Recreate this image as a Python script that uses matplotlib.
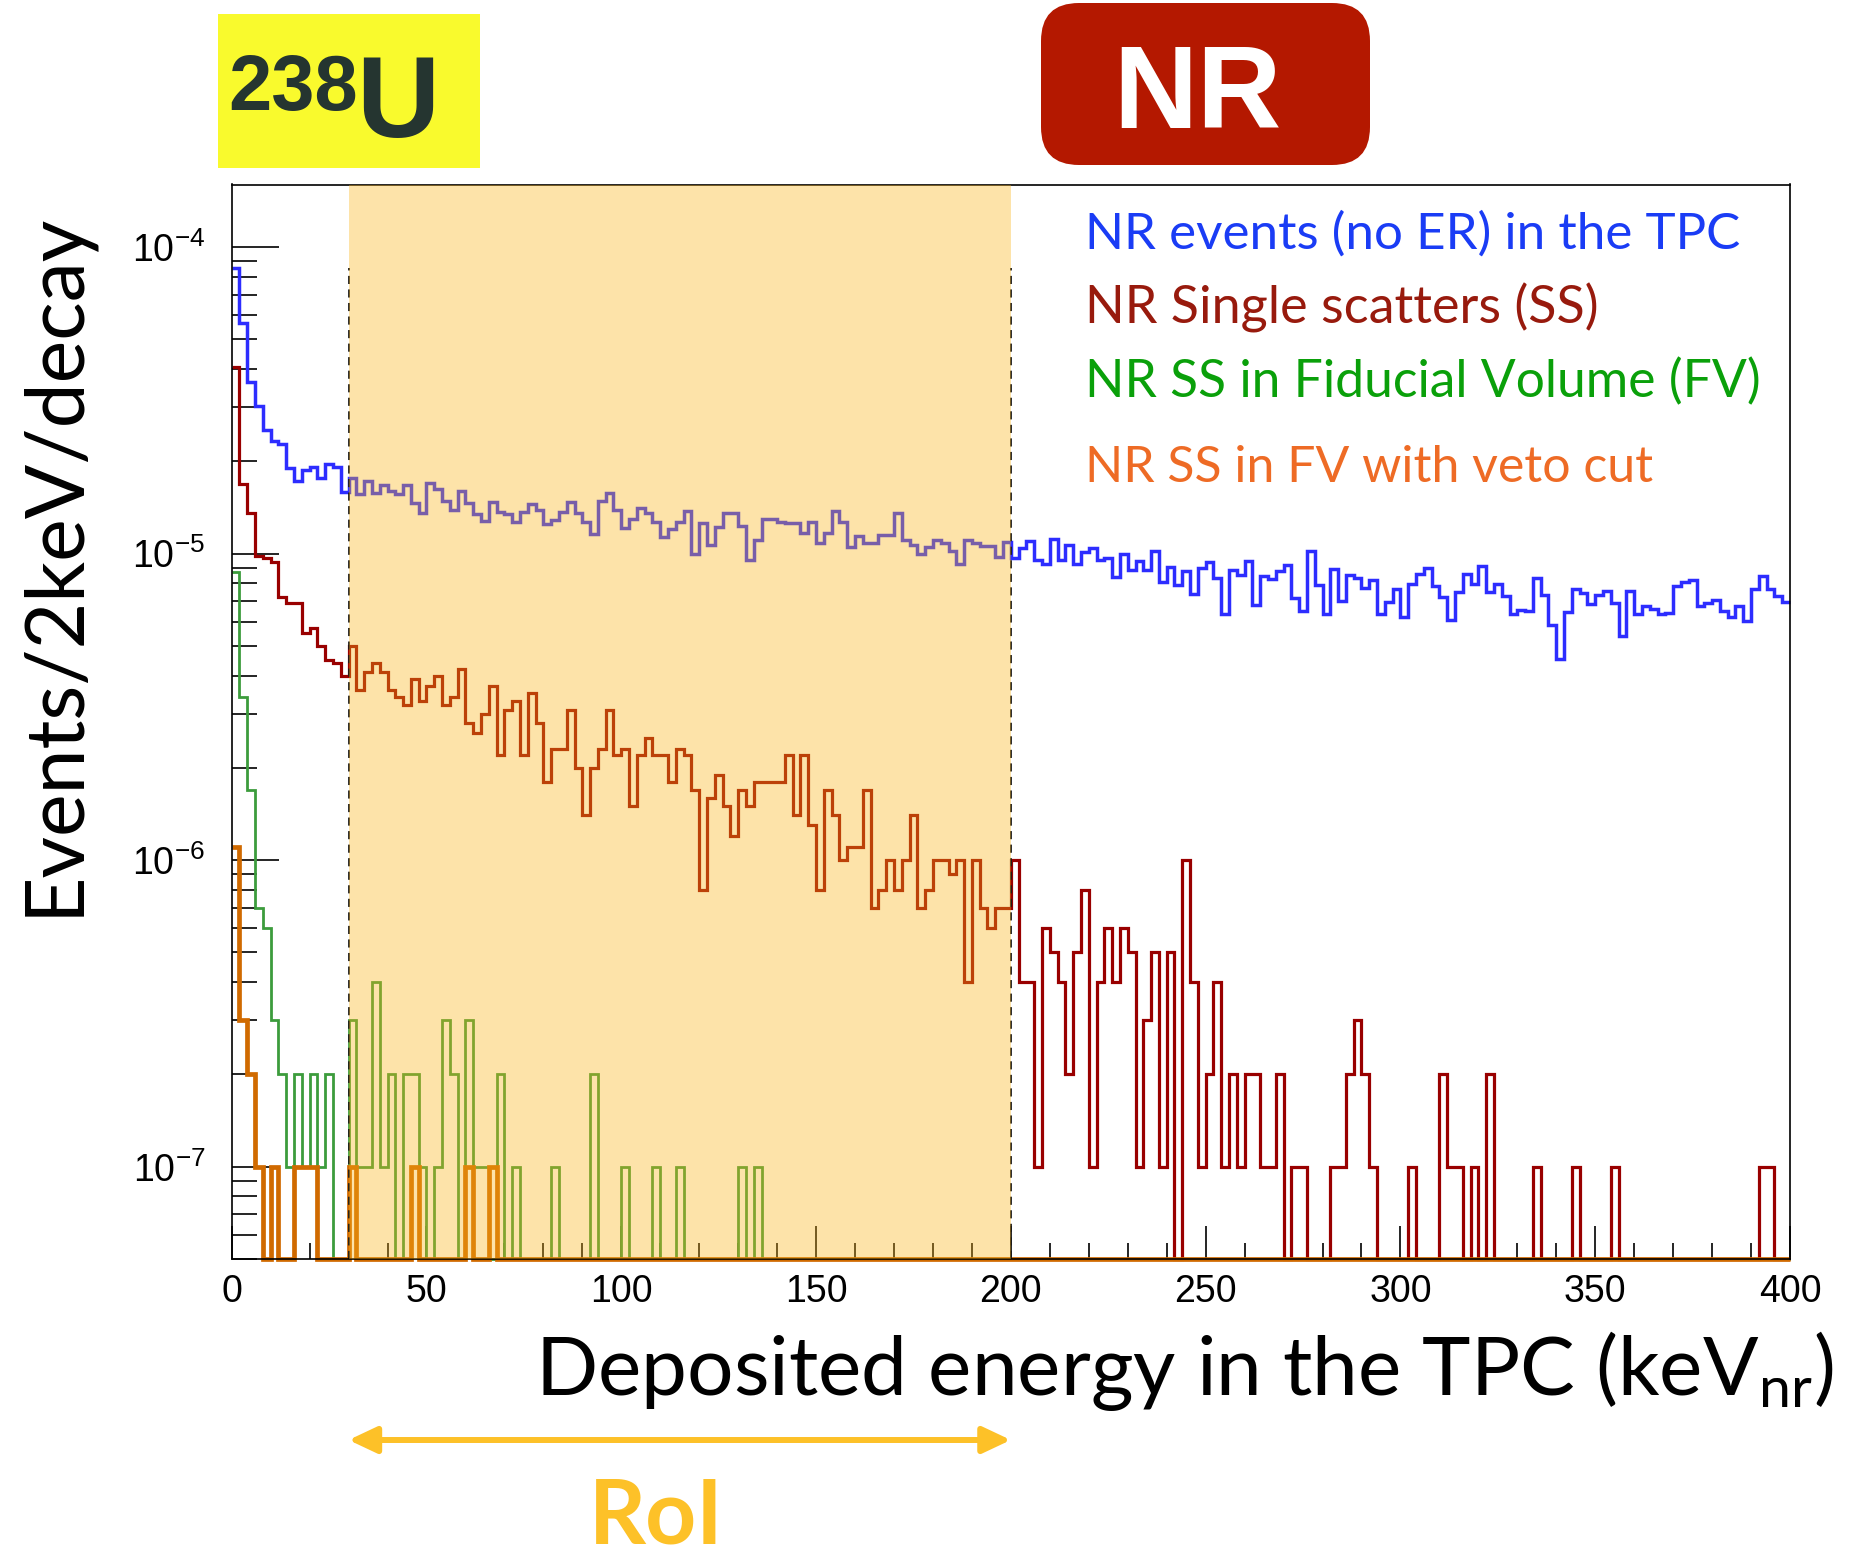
import numpy as np
import matplotlib
matplotlib.use("Agg")
import matplotlib.pyplot as plt
from matplotlib.patches import Rectangle, FancyBboxPatch, FancyArrowPatch
from matplotlib.ticker import FixedLocator, LogLocator, MultipleLocator, NullFormatter

plt.rcParams["font.family"] = ["Liberation Sans", "DejaVu Sans"]
plt.rcParams["mathtext.fontset"] = "custom"
plt.rcParams["mathtext.rm"] = "Liberation Sans"

W, H, DPI = 1861, 1556, 100
PT = DPI / 72.0  # pixels per point

# binning: 2 keV bins, 0-400 keVnr
E_LO, E_HI, N_BINS = 0.0, 400.0, 200
Y_LO, Y_HI = 5e-8, 1.6e-4
ROI = (30.0, 200.0)

# bin contents, in units of 1e-7 events/2keV/decay
UNIT = 1e-7

nr_all = [
    855, 565, 362, 304, 254, 233, 227, 190, 172, 187, 191, 176, 196, 191, 159, 177, 156, 172, 158, 168,
    160, 156, 168, 146, 136, 170, 162, 148, 139, 160, 146, 135, 128, 147, 137, 135, 127, 137, 145, 139,
    125, 129, 137, 147, 136, 127, 116, 149, 158, 139, 121, 130, 141, 136, 127, 113, 120, 127, 138, 100,
    126, 107, 122, 136, 136, 123, 95.5, 111, 130, 130, 127, 126, 126, 117, 127, 108, 117, 138, 127, 105,
    114, 108, 108, 115, 115, 136, 111, 107, 99.8, 105, 111, 108, 102, 92.7, 111, 108, 106, 106, 97.4, 109,
    96.7, 104, 110, 95.5, 92.7, 112, 95.5, 107, 92.7, 101, 104, 95.5, 96.7, 83.8, 100, 88.2, 94.3, 88.2, 102, 80.5,
    90.4, 79.1, 87.5, 73.9, 89.7, 93.6, 83.2, 63.4, 88.2, 85.3, 94.8, 68.1, 84.7, 82.6, 87.5, 92.0, 71.6, 65.2, 102, 79.1,
    63.7, 89.1, 70.3, 85.3, 83.2, 77.2, 82.2, 63.7, 69.3, 76.6, 61.9, 79.7, 85.7, 89.7, 78.5, 72.1, 60.9, 74.7, 85.7, 79.5,
    90.8, 75.1, 79.7, 72.5, 63.5, 65.6, 64.8, 83.2, 73.4, 58.6, 45.4, 64.3, 76.6, 74.3, 68.5, 73.4, 75.8, 69.0, 54.0, 75.8,
    63.7, 67.7, 66.0, 63.5, 64.0, 78.5, 81.1, 82.2, 67.3, 69.0, 70.7, 64.8, 62.1, 67.7, 60.2, 76.6, 84.3, 76.9, 72.5, 69.3,
]

nr_ss = [
    405, 169, 136, 98, 97, 94, 72, 69, 69, 55, 57, 50, 45, 44, 40, 50, 36, 41, 44, 41,
    36, 34, 32, 39, 33, 37, 40, 32, 34, 42, 28, 26, 30, 37, 22, 31, 33, 22, 35, 28,
    18, 23, 23, 31, 20, 14, 20, 23, 31, 22, 23, 15, 22, 25, 22, 22, 18, 23, 22, 17,
    8, 16, 19, 15, 12, 17, 15, 18, 18, 18, 18, 22, 14, 22, 13, 8, 17, 14, 10, 11,
    11, 17, 7, 8, 10, 8, 10, 14, 7, 8, 10, 10, 9, 10, 4, 10, 7, 6, 7, 7,
    10, 4, 4, 1, 6, 5, 4, 2, 5, 8, 1, 4, 6, 4, 6, 5, 1, 3, 5, 1,
    5, 0, 10, 4, 1, 2, 4, 1, 2, 1, 2, 2, 1, 1, 2, 0, 1, 1, 0, 0,
    0, 1, 1, 2, 3, 2, 1, 0, 0, 0, 0, 1, 0, 0, 0, 2, 1, 1, 0, 1,
    0, 2, 0, 0, 0, 0, 0, 1, 0, 0, 0, 0, 1, 0, 0, 0, 0, 1, 0, 0,
    0, 0, 0, 0, 0, 0, 0, 0, 0, 0, 0, 0, 0, 0, 0, 0, 1, 1, 0, 0,
]

nr_ss_fv = [
    87, 34, 17, 7, 6, 3, 2, 1, 2, 1, 2, 1, 2, 0, 0, 3, 1, 1, 4, 1,
    2, 0, 2, 2, 1, 0, 1, 3, 2, 0, 3, 1, 1, 0, 2, 0, 1, 0, 0, 0,
    0, 1, 0, 0, 0, 0, 2, 0, 0, 0, 1, 0, 0, 0, 1, 0, 0, 1, 0, 0,
    0, 0, 0, 0, 0, 1, 0, 1, 0, 0, 0, 0, 0, 0, 0, 0, 0, 0, 0, 0,
] + [0] * 120

nr_ss_fv_veto = [
    11, 3, 2, 1, 0, 1, 0, 0, 1, 1, 1, 0, 0, 0, 0, 1, 0, 0, 0, 0,
    0, 0, 0, 1, 0, 0, 0, 0, 0, 0, 1, 0, 0, 1, 0, 0, 0, 0, 0, 0,
] + [0] * 160

series = [
    (nr_all, "#2d2dff", 2.5),
    (nr_ss, "#990000", 2.3),
    (nr_ss_fv, "#3c9c3c", 2.0),
    (nr_ss_fv_veto, "#d06a00", 3.4),
]

# legend entries: text, colour, baseline (px), size (pt)
legend_lines = [
    ("NR events (no ER) in the TPC", "#1a3cf5", 249, 36.8),
    ("NR Single scatters (SS)", "#981a0d", 323, 37.5),
    ("NR SS in Fiducial Volume (FV)", "#0aa00a", 397, 37.2),
    ("NR SS in FV with veto cut", "#ee6b25", 482, 36.0),
]

# frame position in pixels (left, top, right, bottom)
FX0, FY0, FX1, FY1 = 231.7, 184.5, 1790.0, 1259.0

fig = plt.figure(figsize=(W / DPI, H / DPI), dpi=DPI)
ax = fig.add_axes([FX0 / W, 1 - FY1 / H, (FX1 - FX0) / W, (FY1 - FY0) / H])

edges = np.linspace(E_LO, E_HI, N_BINS + 1)
for vals, color, lw in series:
    # empty bins sit on the lower edge of the frame
    y = np.maximum(np.asarray(vals, dtype=float) * UNIT, Y_LO)
    ax.stairs(y, edges, baseline=None, color=color, lw=lw, clip_on=False, zorder=2)

y_top = max(nr_all) * UNIT
for e in ROI:
    ax.plot([e, e], [Y_LO, y_top], color="#1a1a1a", lw=1.3, dashes=(4.5, 3), zorder=2.5)
ax.axvspan(*ROI, color="#fab317", alpha=0.37, lw=0, zorder=4)

ax.set_xlim(E_LO, E_HI)
ax.set_yscale("log")
ax.set_ylim(Y_LO, Y_HI)

ax.xaxis.set_major_locator(MultipleLocator(50))
ax.xaxis.set_minor_locator(MultipleLocator(10))
ax.yaxis.set_major_locator(FixedLocator([1e-7, 1e-6, 1e-5, 1e-4]))
ax.yaxis.set_minor_locator(LogLocator(base=10, subs=np.arange(2, 10), numticks=30))
ax.yaxis.set_minor_formatter(NullFormatter())

ax.tick_params(axis="both", which="both", direction="in", top=False, right=False,
               width=1.2, color="black")
ax.tick_params(axis="x", which="major", length=33 / PT, labelsize=27, pad=11)
ax.tick_params(axis="x", which="minor", length=16.5 / PT)
ax.tick_params(axis="y", which="major", length=47 / PT, labelsize=27, pad=19)
ax.tick_params(axis="y", which="minor", length=25 / PT)
for sp in ax.spines.values():
    sp.set_linewidth(1.2)
    sp.set_color("black")

# decorations placed in pixel coordinates (origin top-left)
deco = fig.add_axes([0, 0, 1, 1])
deco.set_xlim(0, W)
deco.set_ylim(H, 0)
deco.axis("off")

for text, color, base, size in legend_lines:
    deco.text(1085, base, text, color=color, family="Lato", fontsize=size,
              ha="left", va="baseline")

deco.text(1834, 1395, r"Deposited energy in the TPC (keV$\mathregular{_{nr}}$)",
          family="Lato", fontsize=59, ha="right", va="baseline")
deco.text(77, 564, "Events/2keV/decay", family="Lato", fontsize=58, rotation=90,
          rotation_mode="anchor", ha="center", va="baseline")

# isotope tag
deco.add_patch(Rectangle((218, 14), 262, 154, color="#f9fa2d", lw=0))
deco.text(228, 110, "238", family="Liberation Sans", weight="bold", fontsize=56,
          color="#253530", ha="left", va="baseline")
deco.text(356, 137, "U", family="Liberation Sans", weight="bold", fontsize=83,
          color="#253530", ha="left", va="baseline")

# recoil type badge
deco.add_patch(FancyBboxPatch((1041, 3), 329, 162, boxstyle="round,pad=0,rounding_size=38",
                              color="#b41800", lw=0))
deco.text(1197, 128, "NR", family="Liberation Sans", weight="bold", fontsize=84,
          color="white", ha="center", va="baseline")

# region of interest marker
x0 = FX0 + (FX1 - FX0) * ROI[0] / E_HI
x1 = FX0 + (FX1 - FX0) * ROI[1] / E_HI
deco.add_patch(FancyArrowPatch((x0, 1440), (x1, 1440),
                               arrowstyle="<|-|>,head_length=17,head_width=8",
                               mutation_scale=1, shrinkA=0, shrinkB=0,
                               color="#fdc128", lw=4.3))
deco.text(656, 1543, "RoI", family="Lato", weight="bold", fontsize=64,
          color="#fdc128", ha="center", va="baseline")

fig.savefig("out.png", dpi=DPI)
